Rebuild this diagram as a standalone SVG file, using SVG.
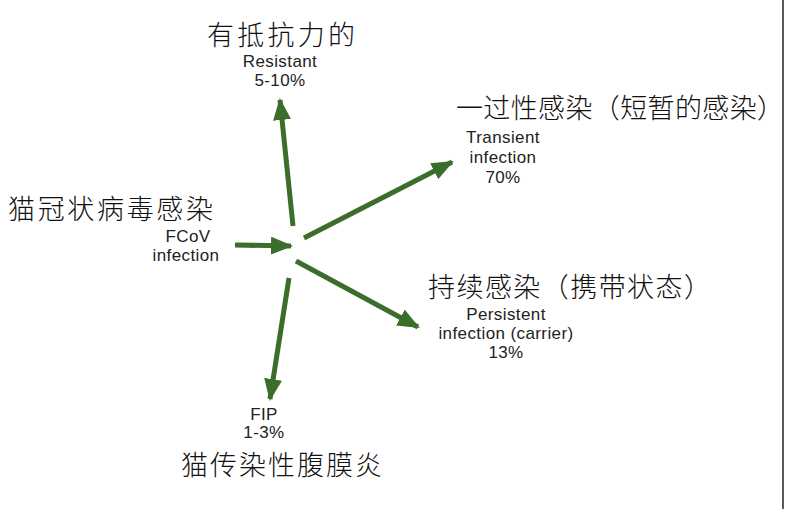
<svg xmlns="http://www.w3.org/2000/svg" width="787" height="509" viewBox="0 0 787 509">
<style>
.zh{font-family:"Noto Sans CJK SC",sans-serif;font-size:27px;fill:#111;font-weight:300}
.en{font-family:"Liberation Sans",Arial,sans-serif;font-size:17px;letter-spacing:0.4px;fill:#222;text-anchor:middle}
.c line{stroke:#3c6e2b;stroke-width:5;marker-end:url(#a)}
</style>
<defs><marker id="a" markerUnits="userSpaceOnUse" markerWidth="22" markerHeight="18" refX="20" refY="9" orient="auto"><path d="M0,0L22,9L0,18z" fill="#3c6e2b"/></marker></defs>
<rect width="787" height="509" fill="#fff"/>
<line x1="783" y1="0" x2="783" y2="509" stroke="#222" stroke-width="1.5"/>
<g class="c">
<line x1="293" y1="226" x2="280" y2="100"/>
<line x1="304" y1="238" x2="452" y2="162"/>
<line x1="235" y1="245" x2="291" y2="246"/>
<line x1="296" y1="261" x2="418" y2="327"/>
<line x1="289" y1="278" x2="270" y2="399"/>
</g>
<g id="resistant"><text class="zh" x="207" y="45" textLength="148">有抵抗力的</text><text class="en" x="280" y="67">Resistant</text><text class="en" x="280" y="86">5-10%</text></g>
<g id="transient"><text class="zh" x="456" y="118" textLength="328">一过性感染（短暂的感染）</text><text class="en" x="503" y="143">Transient</text><text class="en" x="503" y="163">infection</text><text class="en" x="503" y="183">70%</text></g>
<g id="fcov"><text class="zh" x="8" y="219" textLength="205">猫冠状病毒感染</text><text class="en" x="188" y="242">FCoV</text><text class="en" x="186" y="261">infection</text></g>
<g id="persistent"><text class="zh" x="428" y="297" textLength="283">持续感染（携带状态）</text><text class="en" x="506" y="320">Persistent</text><text class="en" x="506" y="339">infection (carrier)</text><text class="en" x="506" y="358">13%</text></g>
<g id="fip"><text class="en" x="264" y="420">FIP</text><text class="en" x="264" y="438">1-3%</text><text class="zh" x="181" y="475" textLength="201">猫传染性腹膜炎</text></g>
</svg>
